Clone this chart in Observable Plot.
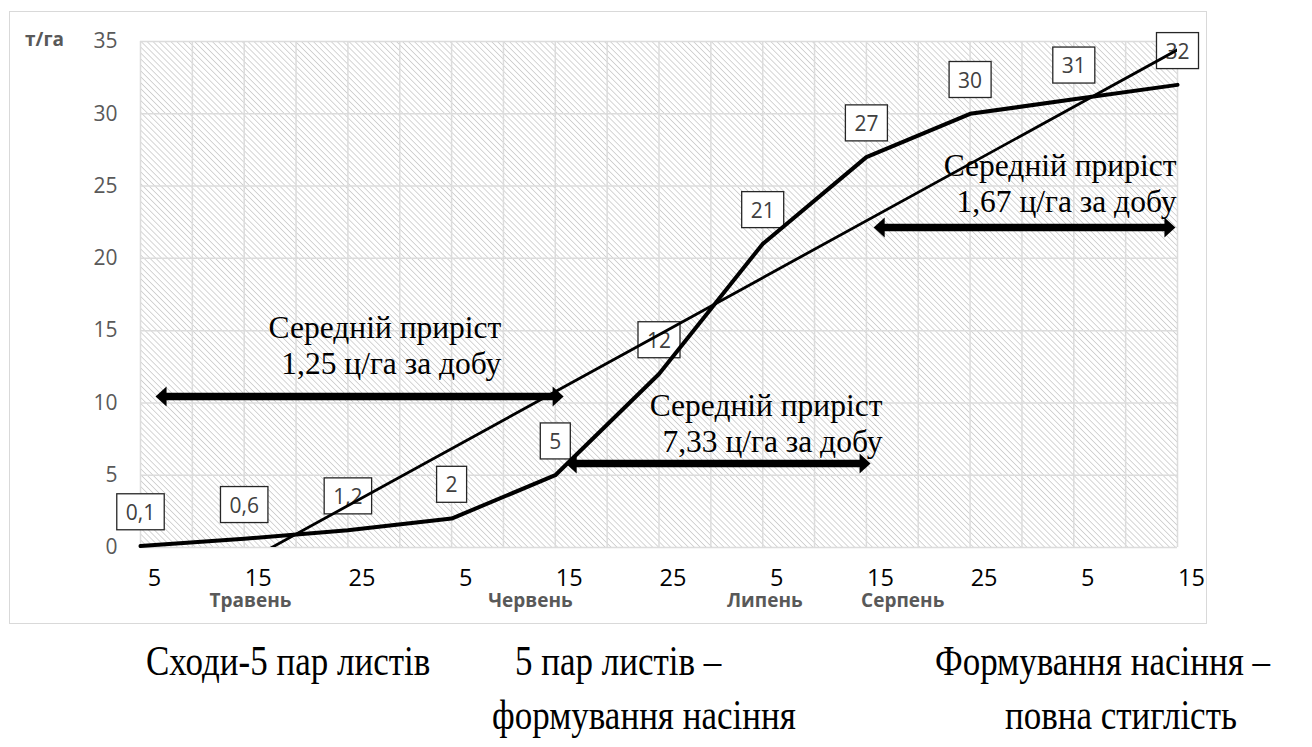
<!DOCTYPE html>
<html><head><meta charset="utf-8">
<script src="https://cdn.jsdelivr.net/npm/d3@7"></script>
<script src="https://cdn.jsdelivr.net/npm/@observablehq/plot@0.6"></script>
<style>
body{margin:0;background:#fff;width:1312px;height:747px;position:relative;overflow:hidden;font-family:"Open Sans",sans-serif}
#frame{position:absolute;left:9px;top:11px;width:1198px;height:613px;border:1px solid #d9d9d9;box-sizing:border-box}
#chart{position:absolute;left:0;top:0}
.cap{position:absolute;font-family:"Liberation Serif","Times New Roman",serif;font-size:35px;color:#000;white-space:nowrap;line-height:1;transform-origin:0 29px;transform:scaleY(1.22)}
</style></head><body>
<div id="frame"><div id="chart"></div></div>
<div id="captions"></div>
<script>
// ---- data ----
const dayLabels = ["5","15","25","5","15","25","5","15","25","5","15"];
const biomass = [0.1, 0.6, 1.2, 2, 5, 12, 21, 27, 30, 31, 32];
const valueLabels = ["0,1","0,6","1,2","2","5","12","21","27","30","31","32"];
const monthNames = ["Травень","Червень","Липень","Серпень"];
const monthX = [1.06, 3.76, 6.02, 7.35];
const yTicks = [0, 5, 10, 15, 20, 25, 30, 35];
const noteText = ["Середній приріст\n1,25 ц/га за добу", "Середній приріст\n7,33 ц/га за добу", "Середній приріст\n1,67 ц/га за добу"];
const noteX = [3.48, 7.155, 9.99];
const noteY = [14.06, 8.65, 25.25];
const arrowX1 = [0.145, 4.10, 7.07];
const arrowX2 = [4.08, 7.04, 9.98];
const arrowY = [10.44, 5.81, 22.13];
const captionLines = [
  ["Сходи-5 пар листів", 146, 646],
  ["5 пар листів –", 515, 646],
  ["формування насіння", 492, 700],
  ["Формування насіння –", 935, 646],
  ["повна стиглість", 1005, 700]
];

// ---- tables ----
const series = biomass.map((v, i) => ({i, v, label: valueLabels[i]}));
const notes = noteText.map((t, k) => ({x: noteX[k], y: noteY[k], t}));
const arrows = arrowY.map((y, k) => ({x1: arrowX1[k], x2: arrowX2[k], y}));
const months = monthNames.map((m, k) => ({m, x: monthX[k]}));

const headR = {draw(c){ c.moveTo(0,0); c.lineTo(-11,-10); c.lineTo(-11,10); c.closePath(); }};
const headL = {draw(c){ c.moveTo(0,0); c.lineTo(11,-10); c.lineTo(11,10); c.closePath(); }};

const chart = Plot.plot({
  width: 1196, height: 611,
  marginLeft: 130, marginRight: 29, marginTop: 29, marginBottom: 76,
  style: {fontFamily: "Open Sans", background: "transparent", overflow: "visible"},
  x: {domain: [0, 10]},
  y: {domain: [0, 35]},
  marks: [
    Plot.frame({fill: "url(#hatch)", stroke: "none"}),
    Plot.gridX({ticks: d3.range(0, 10.001, 0.5), stroke: "#dcdcdc", strokeOpacity: 1, strokeWidth: 1.5}),
    Plot.gridY({ticks: yTicks, stroke: "#dcdcdc", strokeOpacity: 1, strokeWidth: 1.5}),
    Plot.axisY({ticks: yTicks, tickSize: 0, tickPadding: 23, fontSize: 21, color: "#595959"}),
    Plot.axisX({ticks: d3.range(11), tickFormat: i => dayLabels[i], tickSize: 0, tickPadding: 22, dx: 14, fontSize: 23.5, color: "#000"}),
    Plot.text(months, {x: "x", text: "m", frameAnchor: "bottom", dy: 59, fontWeight: "bold", fontSize: 19, fill: "#595959"}),
    Plot.text(["т/га"], {frameAnchor: "top-left", text: d => d, dx: -96, dy: -2, textAnchor: "middle", lineAnchor: "middle", fontWeight: "bold", fontSize: 19, fill: "#595959"}),
    Plot.text(series, {x: "i", y: "v", text: "label", dy: -33, fontSize: 21, fill: "#404040", className: "vlabel"}),
    Plot.linearRegressionY(series, {x: "i", y: "v", stroke: "#000", strokeWidth: 2.8, ci: 0, clip: true}),
    Plot.line(series, {x: "i", y: "v", stroke: "#000", strokeWidth: 4, strokeLinejoin: "round"}),
    Plot.ruleY(arrows, {x1: "x1", x2: "x2", y: "y", stroke: "#000", strokeWidth: 7.5, insetLeft: 9, insetRight: 9}),
    Plot.dot(arrows, {x: "x1", y: "y", symbol: headL, fill: "#000", stroke: "none"}),
    Plot.dot(arrows, {x: "x2", y: "y", symbol: headR, fill: "#000", stroke: "none"}),
    Plot.text(notes, {x: "x", y: "y", text: "t", textAnchor: "end", lineAnchor: "middle", lineHeight: 1.14, fontFamily: "Liberation Serif", fontSize: 31.5, fill: "#000"})
  ]
});
document.getElementById("chart").append(chart);

// hatch pattern
const ns = "http://www.w3.org/2000/svg";
const defs = document.createElementNS(ns, "defs");
defs.innerHTML = '<pattern id="hatch" patternUnits="userSpaceOnUse" width="4.2" height="4.2" patternTransform="rotate(-45)"><rect width="4.2" height="4.2" fill="#fff"/><line x1="0" y1="0" x2="0" y2="4.2" stroke="#c8c8c8" stroke-width="1.5"/></pattern>';
chart.insertBefore(defs, chart.firstChild);

// boxes around value labels
chart.querySelectorAll("g.vlabel text").forEach(t => {
  const b = t.getBBox();
  const r = document.createElementNS(ns, "rect");
  r.setAttribute("x", b.x - 9); r.setAttribute("y", b.y - 4);
  r.setAttribute("width", b.width + 18); r.setAttribute("height", b.height + 8);
  r.setAttribute("fill", "#fff"); r.setAttribute("stroke", "#262626"); r.setAttribute("stroke-width", "1.3");
  if (t.getAttribute("transform")) r.setAttribute("transform", t.getAttribute("transform"));
  t.parentNode.insertBefore(r, t);
});

// captions
const cap = document.getElementById("captions");
captionLines.forEach(([s, x, y]) => {
  const d = document.createElement("div");
  d.className = "cap"; d.textContent = s; d.style.left = x + "px"; d.style.top = y + "px";
  cap.append(d);
});
</script>
</body></html>
